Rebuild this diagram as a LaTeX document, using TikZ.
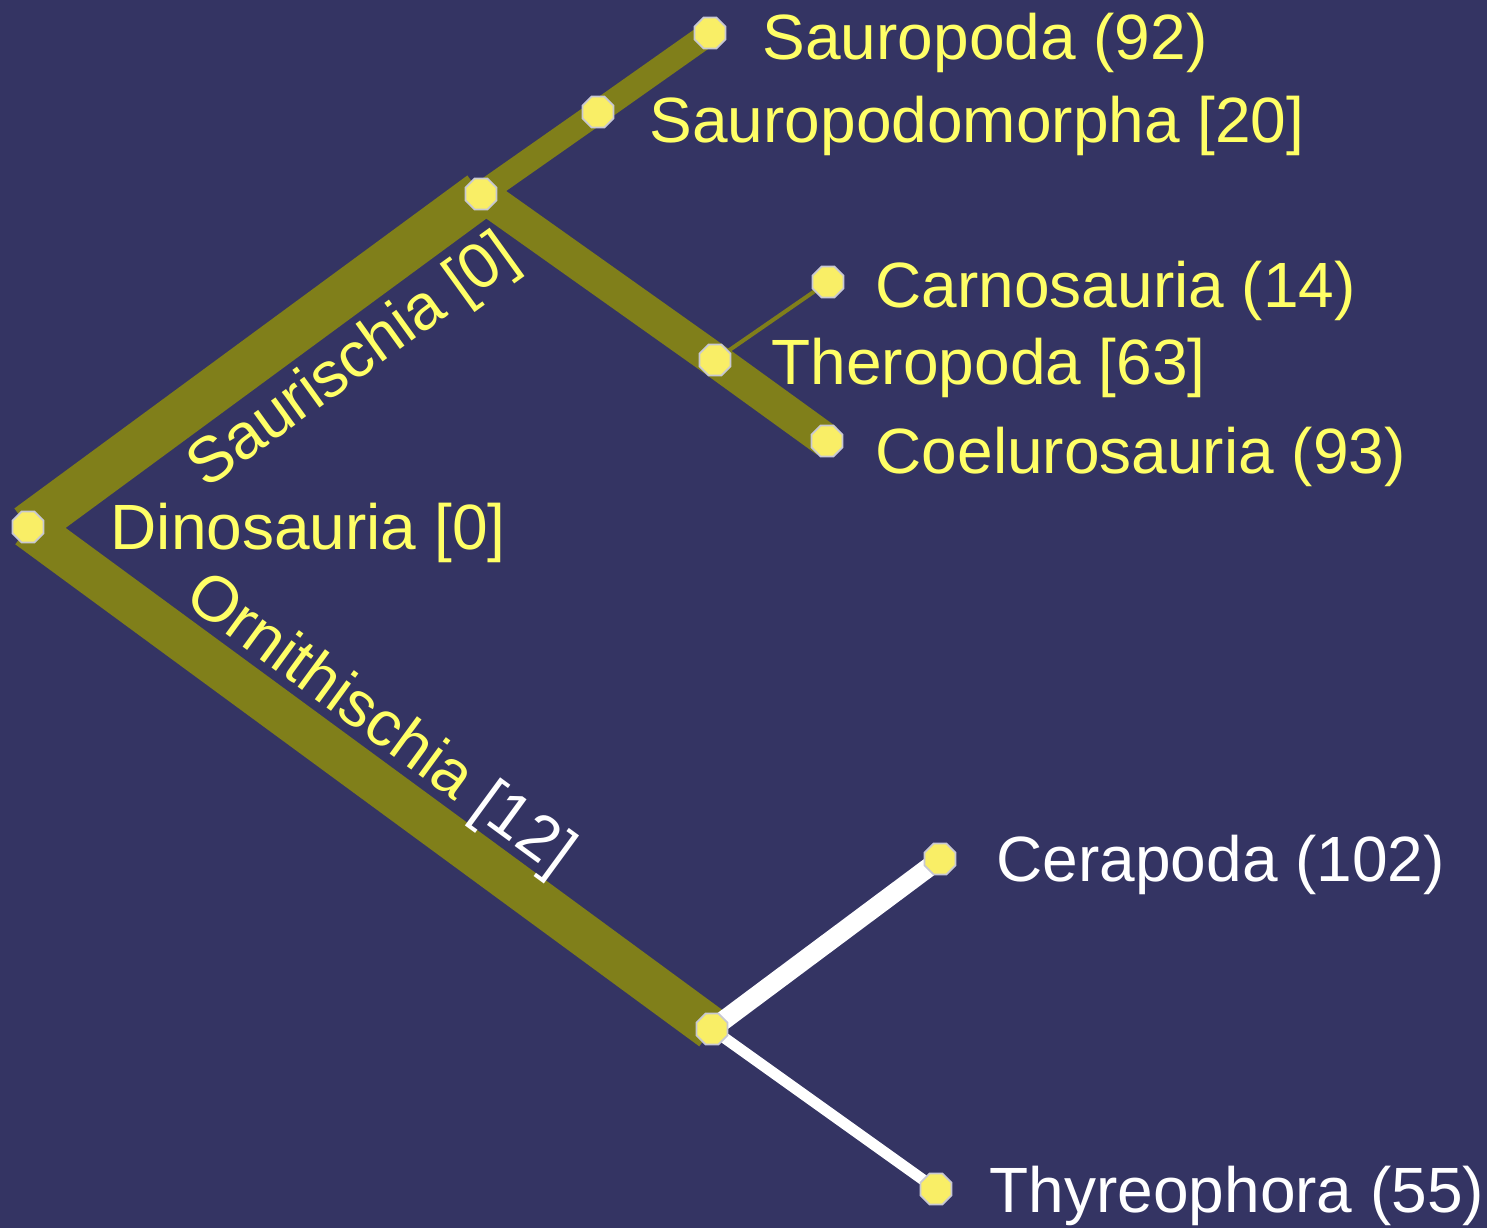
\documentclass[tikz,border=0pt]{standalone}
\usepackage{fontspec}
\setmainfont{Liberation Sans}
\usetikzlibrary{shapes.geometric}
\definecolor{bgblue}{RGB}{52,52,99}
\definecolor{olivebr}{RGB}{128,127,26}
\definecolor{txtyellow}{RGB}{255,255,102}
\definecolor{nodeyellow}{RGB}{249,238,102}
\definecolor{rimgray}{RGB}{200,200,210}
\tikzset{
  branch/.style={draw=olivebr, line cap=butt},
  whitebranch/.style={draw=white, line cap=butt},
  taxon/.style={regular polygon, regular polygon sides=8, minimum size=3.35mm, inner sep=0pt,
     fill=nodeyellow, draw=rimgray, line width=0.18mm},
  lbl/.style={font=\fontsize{18.2pt}{21pt}\selectfont, inner sep=0pt, anchor=base west, text=txtyellow},
  wlbl/.style={lbl, text=white}
}
\begin{document}
\begin{tikzpicture}[x=0.01cm, y=-0.01cm]
\fill[bgblue] (0,0) rectangle (1487,1228);
\useasboundingbox (0,0) rectangle (1487,1228);
% positions
\coordinate (dino) at (28,527);
\coordinate (saur) at (481,194);
\coordinate (sauropodo) at (598,112);
\coordinate (sauropoda) at (710,33);
\coordinate (thero) at (715,360);
\coordinate (carno) at (828,282);
\coordinate (coelu) at (827,441);
\coordinate (ornith) at (712,1029);
\coordinate (cera) at (940,859);
\coordinate (thyreo) at (936,1189);
% branches
\draw[branch, line width=4.6mm] (dino) -- (saur);
\draw[branch, line width=4.3mm] (dino) -- (ornith);
\draw[branch, line width=2.4mm] (saur) -- (sauropodo);
\draw[branch, line width=2.4mm] (sauropodo) -- (sauropoda);
\draw[branch, line width=3.4mm] (saur) -- (thero);
\draw[branch, line width=3.4mm] (thero) -- (coelu);
\draw[branch, line width=0.4mm] (thero) -- (carno);
\draw[whitebranch, line width=1.9mm] (ornith) -- (cera);
\draw[whitebranch, line width=1.1mm] (ornith) -- (thyreo);
% taxon nodes
\foreach \n in {dino,saur,sauropodo,sauropoda,thero,carno,coelu,ornith,cera,thyreo}
  \node[taxon] (n-\n) at (\n) {};
% labels
\node[lbl] (l-sauropoda) at (762,60) {Sauropoda (92)};
\node[lbl] (l-sauropodo) at (649,143) {Sauropodomorpha [20]};
\node[lbl] (l-carno) at (875,308) {Carnosauria (14)};
\node[lbl] (l-thero) at (771,385) {Theropoda [63]};
\node[lbl] (l-coelu) at (875,474) {Coelurosauria (93)};
\node[lbl] (l-dino) at (110,550) {Dinosauria [0]};
\node[wlbl] (l-cera) at (996,882) {Cerapoda (102)};
\node[wlbl] (l-thyreo) at (989,1212) {Thyreophora (55)};
\node[lbl, rotate=35.8] (l-saur) at (206,490) {Saurischia [0]};
\node[lbl, rotate=-36.2] (l-ornith) at (182,602) {Ornithischia {\color{white}[12]}};
\end{tikzpicture}
\end{document}
